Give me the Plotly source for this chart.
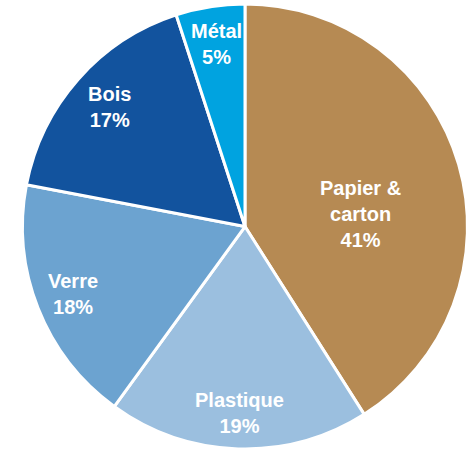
import math
import plotly.graph_objects as go

labels = ["Papier &<br>carton", "Plastique", "Verre", "Bois", "Métal"]
values = [41, 19, 18, 17, 5]
colors = ["#B68A53", "#9BBFDF", "#6CA3D0", "#12539E", "#00A3E0"]

# label placement style (fraction of radius, angular nudge in degrees)
label_r = [0.52, 0.84, 0.83, 0.81, 0.83]
label_nudge = [10, 0, 0, 0, 0]

W, H = 472, 449
dom_x = [0.0466, 0.9915]
dom_y = [0.0, 0.991]

fig = go.Figure(go.Pie(
    labels=labels,
    values=values,
    sort=False,
    direction="clockwise",
    rotation=0,
    marker=dict(colors=colors, line=dict(color="white", width=3)),
    textinfo="none",
    hoverinfo="label+value",
    domain=dict(x=dom_x, y=dom_y),
))

# pie geometry in pixels (derived from domain)
cx = (dom_x[0] + dom_x[1]) / 2 * W
cy = (1 - (dom_y[0] + dom_y[1]) / 2) * H
R = min((dom_x[1] - dom_x[0]) * W, (dom_y[1] - dom_y[0]) * H) / 2

total = sum(values)
cum = 0
for lab, v, fr, nd in zip(labels, values, label_r, label_nudge):
    mid = (cum + v / 2) / total * 360 + nd
    cum += v
    th = math.radians(mid)
    xp = cx + fr * R * math.sin(th)
    yp = cy - fr * R * math.cos(th)
    fig.add_annotation(
        x=xp / W, y=1 - yp / H, xref="paper", yref="paper",
        text=f"<b>{lab}<br>{v}%</b>", showarrow=False,
        font=dict(family="Liberation Sans, Arial, sans-serif", size=20, color="white"),
        align="center", xanchor="center", yanchor="middle",
    )

fig.update_layout(
    width=W, height=H,
    margin=dict(l=0, r=0, t=0, b=0),
    showlegend=False,
    paper_bgcolor="white",
)
fig.write_html("out.html", config={"displayModeBar": False},
               post_script="document.body.style.margin='0';")
